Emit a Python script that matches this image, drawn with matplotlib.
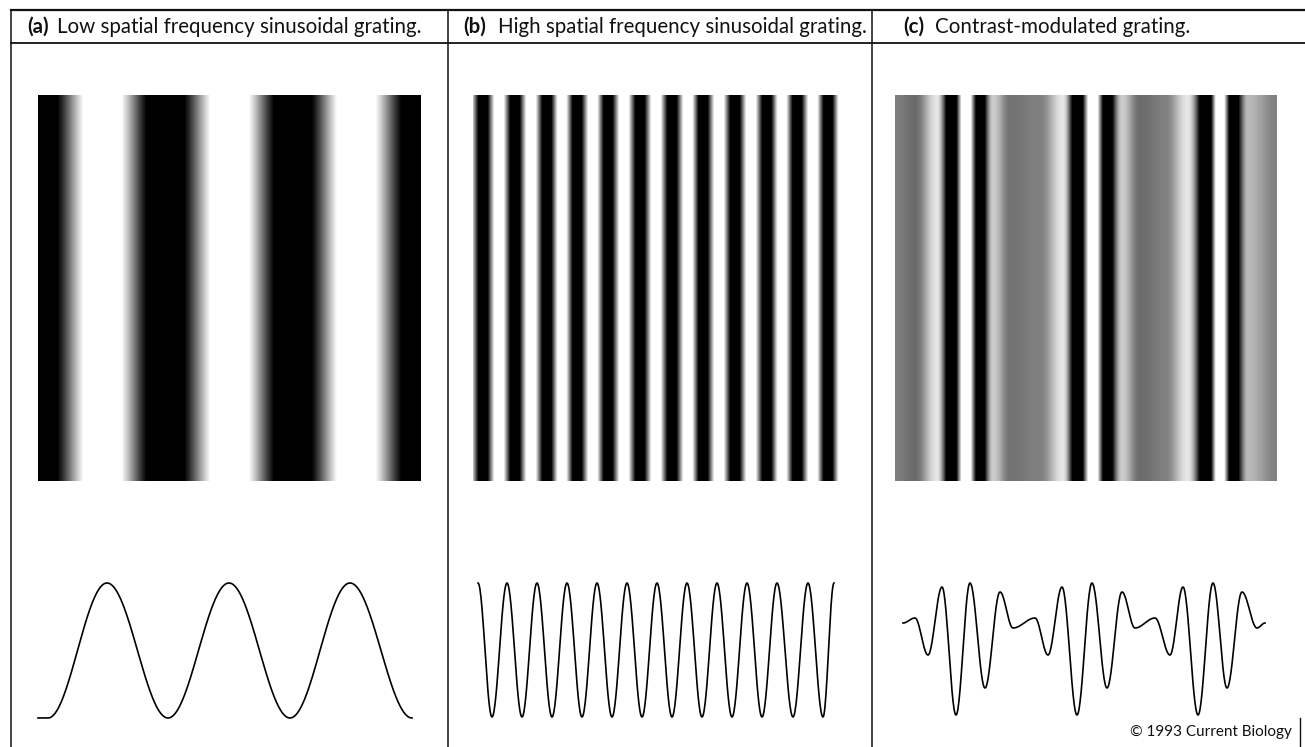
import numpy as np
import matplotlib
matplotlib.use("Agg")
import matplotlib.pyplot as plt

# panel headers
labels = ["(a)", "(b)", "(c)"]
titles = [
    "Low spatial frequency sinusoidal grating.",
    "High spatial frequency sinusoidal grating.",
    "Contrast-modulated grating.",
]
credit = "\u00a9 1993 Current Biology"

# grating (a): dark / light band centres (pixel x)
a_dark = [38, 165, 293, 421]
a_light = [103, 230, 356]
# grating (b)
b_dark = [483, 515, 547, 577, 608, 640, 672, 703, 735, 767, 797, 828]
b_light = [467, 499, 531, 562, 593, 624, 656, 688, 719, 751, 782, 813, 843]
# grating (c): band centres and their grey level (0 black, 1 white, clipped)
c_x = [895, 915, 937, 952, 966, 980, 993, 1010, 1040, 1063, 1078, 1093, 1107,
       1122, 1140, 1165, 1188, 1207, 1220, 1233, 1248, 1277]
c_lvl = [0.5, 0.42, 0.9, -0.4, 1.4, -0.3, 0.8, 0.45, 0.5, 0.9, -0.4, 1.4, -0.3,
         0.8, 0.42, 0.5, 0.9, -0.4, 1.4, -0.3, 0.72, 0.5]

# luminance profiles: extrema (x, y) in pixels
wa_x = [38, 48, 107, 168, 229, 290, 350, 412]
wa_y = [718, 718, 583, 718, 583, 718, 583, 718]
wb_peaks = [478, 507, 537, 567, 597, 627, 657, 687, 717, 747, 777, 808, 834]
wb_troughs = [492, 522, 552, 582, 612, 642, 672, 702, 732, 762, 793, 823]
wc_x = [903, 915, 928, 942, 956, 970, 985, 1000, 1013, 1035, 1048, 1062, 1077,
        1092, 1107, 1122, 1135, 1155, 1170, 1183, 1198, 1213, 1227, 1242, 1257,
        1265]
wc_y = [623, 618, 655, 587, 715, 583, 688, 592, 628, 618, 655, 587, 715,
        583, 688, 592, 628, 618, 655, 587, 715, 583, 688, 592, 628, 623]


def cosine_path(xs, ys, step=0.5):
    # smooth half-cosine segments between consecutive extrema
    px, py = [], []
    for x0, x1, y0, y1 in zip(xs[:-1], xs[1:], ys[:-1], ys[1:]):
        t = np.arange(0, 1, step / (x1 - x0))
        px.append(x0 + (x1 - x0) * t)
        py.append(y0 + (y1 - y0) * (1 - np.cos(np.pi * t)) / 2)
    px.append([xs[-1]])
    py.append([ys[-1]])
    return np.concatenate(px), np.concatenate(py)


def bands(dark, light, dark_lvl, light_lvl):
    pts = sorted([(x, dark_lvl) for x in dark] + [(x, light_lvl) for x in light])
    return [p[0] for p in pts], [p[1] for p in pts]


def draw_grating(ax, xs, lvls, x0, x1, y0=95, y1=481):
    px, py = cosine_path(xs, lvls)
    cols = np.arange(x0, x1) + 0.5
    prof = np.interp(cols, px, py)
    ax.imshow(prof[None, :], cmap="gray", vmin=0, vmax=1, aspect="auto",
              interpolation="nearest", extent=(x0, x1, y1, y0), zorder=1)


fig = plt.figure(figsize=(13.05, 7.47), dpi=100)
ax = fig.add_axes([0, 0, 1, 1])
ax.set_xlim(0, 1305)
ax.set_ylim(747, 0)
ax.axis("off")

# frame
lc = "#111111"
ax.plot([11, 1305], [10, 10], color=lc, lw=1.6)
ax.plot([11, 1305], [43, 43], color=lc, lw=1.3)
for xv in [11, 448, 872]:
    ax.plot([xv, xv], [10, 747], color=lc, lw=1.1)
ax.plot([1300, 1300], [718, 747], color=lc, lw=1.0)

# headers
font = "Lato"
lab_x = [27, 463, 903]
tit_x = [57, 498, 935]
for lab, tit, lx, tx in zip(labels, titles, lab_x, tit_x):
    ax.text(lx, 27, lab, fontsize=14.8, fontweight="bold", family=font,
            va="center", ha="left", color="#111111")
    ax.text(tx, 27, tit, fontsize=14.8, family=font, va="center", ha="left",
            color="#111111")

# gratings
xs, lv = bands(a_dark, a_light, -0.35, 1.35)
draw_grating(ax, xs, lv, 38, 421)
xs, lv = bands(b_dark, b_light, -0.3, 1.3)
draw_grating(ax, xs, lv, 473, 843)
draw_grating(ax, c_x, c_lvl, 895, 1277)

# luminance profiles
px, py = cosine_path(wa_x, wa_y)
ax.plot(px, py, color="black", lw=1.2)

wb_x, wb_y = bands(wb_troughs, wb_peaks, 717, 583)
px, py = cosine_path(wb_x, wb_y)
ax.plot(px, py, color="black", lw=1.2)

px, py = cosine_path(wc_x, wc_y)
ax.plot(px, py, color="black", lw=1.2)

ax.text(1292, 732, credit, fontsize=11, family=font, ha="right", va="center",
        color="#111111")

fig.savefig("out.png", dpi=100)
